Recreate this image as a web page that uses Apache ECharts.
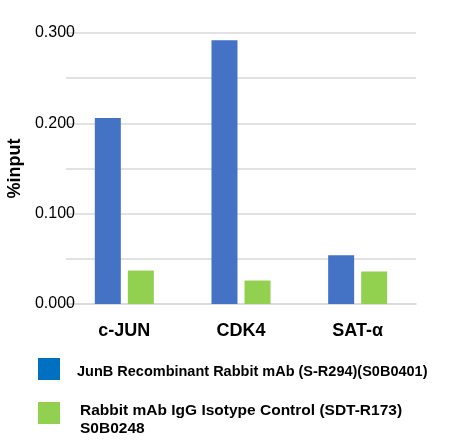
<!DOCTYPE html>
<html>
<head>
<meta charset="utf-8">
<script src="https://cdn.jsdelivr.net/npm/echarts@6/dist/echarts.min.js"></script>
<style>
  html, body { margin: 0; padding: 0; background: #fff; }
  #main { width: 451px; height: 442px; }
</style>
</head>
<body>
<div id="main"></div>
<script>
var categories = ['c-JUN', 'CDK4', 'SAT-α'];
var seriesNames = [
    'JunB Recombinant Rabbit mAb (S-R294)(S0B0401)',
    'Rabbit mAb IgG Isotype Control (SDT-R173)\nS0B0248'
];
var junbValues = [0.206, 0.292, 0.054];
var isotypeValues = [0.037, 0.026, 0.036];

var myChart = echarts.init(document.getElementById('main'));

// 图例文字：顶部加一行空白，把文字往下挪一点
function legendText(name) {
    var lines = name.split('\n').map(function (s) { return '{t|' + s + '}'; });
    return '{s| }\n' + lines.join('\n');
}

var option = {
    backgroundColor: '#fff',
    textStyle: { fontFamily: 'Liberation Sans, Arial, sans-serif' },
    grid: { left: 66, right: 35, top: 33, bottom: 138, outerBoundsMode: 'none' },
    legend: [{
        orient: 'vertical',
        left: 38,
        top: 358,
        padding: 0,
        itemWidth: 22,
        itemHeight: 22,
        icon: 'rect',
        data: [{ name: seriesNames[0], itemStyle: { color: '#0070C0' } }],
        formatter: legendText,
        textStyle: {
            color: '#000',
            rich: {
                s: { fontSize: 4, lineHeight: 6 },
                t: { fontSize: 14.5, fontWeight: 'bold', color: '#000', lineHeight: 18, padding: [0, 0, 0, 12] }
            }
        }
    }, {
        orient: 'vertical',
        left: 38,
        top: 393,
        padding: 0,
        itemWidth: 22,
        itemHeight: 22,
        icon: 'rect',
        data: [{ name: seriesNames[1], itemStyle: { color: '#92D050' } }],
        formatter: legendText,
        textStyle: {
            color: '#000',
            rich: {
                s: { fontSize: 4, lineHeight: 14 },
                t: { fontSize: 15.5, fontWeight: 'bold', color: '#000', lineHeight: 18, padding: [0, 0, 0, 15] }
            }
        }
    }],
    xAxis: {
        type: 'category',
        data: categories,
        axisLine: { show: true, lineStyle: { color: '#d9d9d9', width: 1.5 } },
        axisTick: { show: false },
        axisLabel: { fontSize: 18, fontWeight: 'bold', color: '#000', margin: 18 }
    },
    yAxis: {
        type: 'value',
        min: 0,
        max: 0.3,
        interval: 0.1,
        name: '%input',
        nameLocation: 'middle',
        nameGap: 41,
        nameTextStyle: { fontSize: 18, fontWeight: 'bold', color: '#000' },
        axisLine: { show: false },
        axisTick: { show: false },
        axisLabel: {
            fontSize: 16, color: '#000', margin: -9,
            formatter: function (v) { return v.toFixed(3); }
        },
        splitLine: { lineStyle: { color: '#d9d9d9', width: 1.5 } },
        minorTick: { show: false, splitNumber: 2 },
        minorSplitLine: { show: true, lineStyle: { color: '#d9d9d9', width: 1.5 } }
    },
    series: [{
        name: seriesNames[0],
        type: 'bar',
        data: junbValues,
        barWidth: 26,
        barGap: '27%',
        itemStyle: { color: '#4472C4' }
    }, {
        name: seriesNames[1],
        type: 'bar',
        data: isotypeValues,
        barWidth: 26,
        itemStyle: { color: '#92D050' }
    }],
    animation: false
};

myChart.setOption(option);
</script>
</body>
</html>
